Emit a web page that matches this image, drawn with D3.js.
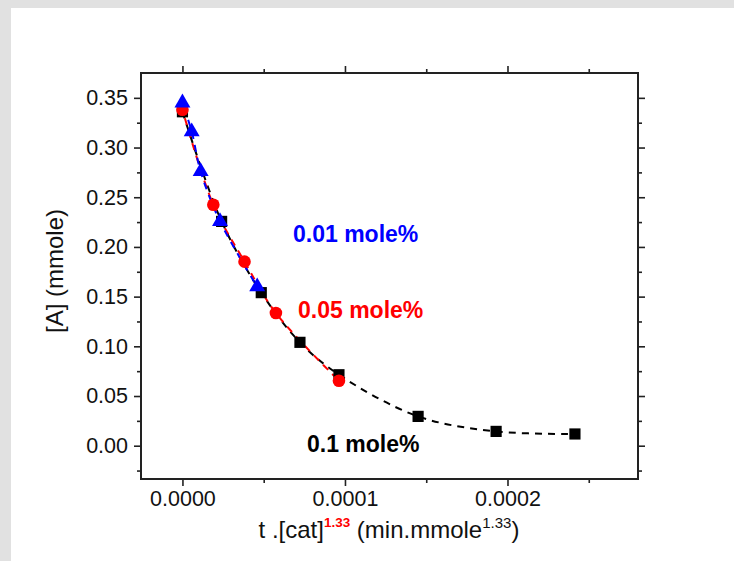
<!DOCTYPE html>
<html>
<head>
<meta charset="utf-8">
<script src="https://cdn.jsdelivr.net/npm/d3@7"></script>
<style>
  html, body { margin: 0; padding: 0; background: #e1e1e1; }
  svg { display: block; }
</style>
</head>
<body>
<svg id="chart" width="734" height="561"></svg>
<script>
// ---- data ----
const black_x = [0, 0.0000241, 0.0000485, 0.0000723, 0.0000963, 0.000145, 0.000193, 0.0002415];
const black_y = [0.336, 0.2257, 0.154, 0.104, 0.0714, 0.0295, 0.0144, 0.0118];
const red_x = [0, 0.0000190, 0.0000382, 0.0000575, 0.0000963];
const red_y = [0.338, 0.2425, 0.1852, 0.1335, 0.0654];
const blue_x = [0, 0.0000057, 0.0000112, 0.0000231, 0.000046];
const blue_y = [0.345, 0.316, 0.276, 0.2257, 0.160];
const xMajorTicks = [0, 0.0001, 0.0002];
const xMinorTicks = [0.00005, 0.00015, 0.00025];
const yMajorTicks = [0, 0.05, 0.10, 0.15, 0.20, 0.25, 0.30, 0.35];
const yMinorTicks = [-0.025, 0.025, 0.075, 0.125, 0.175, 0.225, 0.275, 0.325];
const seriesLabels = ["0.01 mole%", "0.05 mole%", "0.1 mole%"];

const svg = d3.select("#chart");
svg.append("rect").attr("x", 11).attr("y", 8).attr("width", 734 - 11).attr("height", 561 - 8).attr("fill", "#ffffff");

const L = 141, R = 638, T = 73, B = 479;
const x = d3.scaleLinear().domain([-0.0000255, 0.0002803]).range([L, R]);
const y = d3.scaleLinear().domain([-0.0335, 0.375]).range([B, T]);

const font = "Liberation Sans, Arial, sans-serif";
const axisColor = "#222";

function styleAxis(g) {
  g.select(".domain").remove();
  g.selectAll(".tick line").attr("stroke", axisColor).attr("stroke-width", 1.6);
  g.selectAll(".tick text").attr("font-family", font).attr("font-size", 21.5).attr("fill", "#111");
}

// left
svg.append("g").attr("transform", `translate(${L},0)`)
  .call(d3.axisLeft(y).tickValues(yMajorTicks).tickSize(7).tickPadding(6).tickFormat(d3.format(".2f")))
  .call(styleAxis);
svg.append("g").attr("transform", `translate(${L},0)`)
  .call(d3.axisLeft(y).tickValues(yMinorTicks.filter(v => y(v) < B - 1)).tickSize(4).tickFormat(""))
  .call(styleAxis);
// right
svg.append("g").attr("transform", `translate(${R},0)`)
  .call(d3.axisRight(y).tickValues(yMajorTicks).tickSize(7).tickFormat(""))
  .call(styleAxis);
svg.append("g").attr("transform", `translate(${R},0)`)
  .call(d3.axisRight(y).tickValues(yMinorTicks.filter(v => y(v) < B - 1)).tickSize(4).tickFormat(""))
  .call(styleAxis);
// bottom
svg.append("g").attr("transform", `translate(0,${B})`)
  .call(d3.axisBottom(x).tickValues(xMajorTicks).tickSize(7).tickPadding(5).tickFormat(d3.format(".4f")))
  .call(styleAxis);
svg.append("g").attr("transform", `translate(0,${B})`)
  .call(d3.axisBottom(x).tickValues(xMinorTicks).tickSize(4).tickFormat(""))
  .call(styleAxis);
// top
svg.append("g").attr("transform", `translate(0,${T})`)
  .call(d3.axisTop(x).tickValues(xMajorTicks).tickSize(7).tickFormat(""))
  .call(styleAxis);
svg.append("g").attr("transform", `translate(0,${T})`)
  .call(d3.axisTop(x).tickValues(xMinorTicks).tickSize(4).tickFormat(""))
  .call(styleAxis);

// frame
svg.append("rect").attr("x", L).attr("y", T).attr("width", R - L).attr("height", B - T)
  .attr("fill", "none").attr("stroke", axisColor).attr("stroke-width", 2);

// lines
const line = d3.line().x(d => x(d[0])).y(d => y(d[1])).curve(d3.curveCatmullRom.alpha(0.5));
const zip = (a, b) => a.map((v, i) => [v, b[i]]);
const blackData = zip(black_x, black_y);
const redData = zip(red_x, red_y);
const blueData = zip(blue_x, blue_y);

svg.append("path").datum(blackData).attr("d", line).attr("fill", "none")
  .attr("stroke", "#000").attr("stroke-width", 2).attr("stroke-dasharray", "7,6");
svg.append("path").datum(redData).attr("d", line).attr("fill", "none")
  .attr("stroke", "#ff0000").attr("stroke-width", 2).attr("stroke-dasharray", "7,6").attr("stroke-dashoffset", 4);
svg.append("path").datum(blueData).attr("d", line).attr("fill", "none")
  .attr("stroke", "#0000ff").attr("stroke-width", 2).attr("stroke-dasharray", "7,6").attr("stroke-dashoffset", 8);

// markers
svg.append("g").selectAll("path").data(blackData).join("path")
  .attr("d", d3.symbol().type(d3.symbolSquare).size(125))
  .attr("transform", d => `translate(${x(d[0])},${y(d[1])})`).attr("fill", "#000");
svg.append("g").selectAll("circle").data(redData).join("circle")
  .attr("cx", d => x(d[0])).attr("cy", d => y(d[1])).attr("r", 6.3).attr("fill", "#ff0000");
svg.append("g").selectAll("path").data(blueData).join("path")
  .attr("d", d3.symbol().type(d3.symbolTriangle).size(110))
  .attr("transform", d => `translate(${x(d[0])},${y(d[1])})`).attr("fill", "#0000ff");

// series labels
const lab = [
  { t: seriesLabels[0], c: "#0000ff", x: 293, y: 242 },
  { t: seriesLabels[1], c: "#ff0000", x: 298, y: 318 },
  { t: seriesLabels[2], c: "#000000", x: 307, y: 452 }
];
svg.append("g").selectAll("text").data(lab).join("text")
  .attr("x", d => d.x).attr("y", d => d.y).attr("fill", d => d.c)
  .attr("font-family", font).attr("font-weight", "bold").attr("font-size", 23)
  .text(d => d.t);

// y title
svg.append("text")
  .attr("transform", "translate(63,271) rotate(-90)")
  .attr("text-anchor", "middle")
  .attr("font-family", font).attr("font-size", 24).attr("fill", "#111")
  .text("[A] (mmole)");

// x title
const xt = svg.append("text")
  .attr("x", 389).attr("y", 538).attr("text-anchor", "middle")
  .attr("font-family", font).attr("font-size", 24).attr("fill", "#111");
xt.append("tspan").text("t .[cat]");
xt.append("tspan").attr("dy", -11).attr("font-size", 13.5).attr("font-weight", "bold").attr("fill", "#ff0000").text("1.33");
xt.append("tspan").attr("dy", 11).text(" (min.mmole");
xt.append("tspan").attr("dy", -10).attr("font-size", 15).text("1.33");
xt.append("tspan").attr("dy", 10).text(")");
</script>
</body>
</html>
